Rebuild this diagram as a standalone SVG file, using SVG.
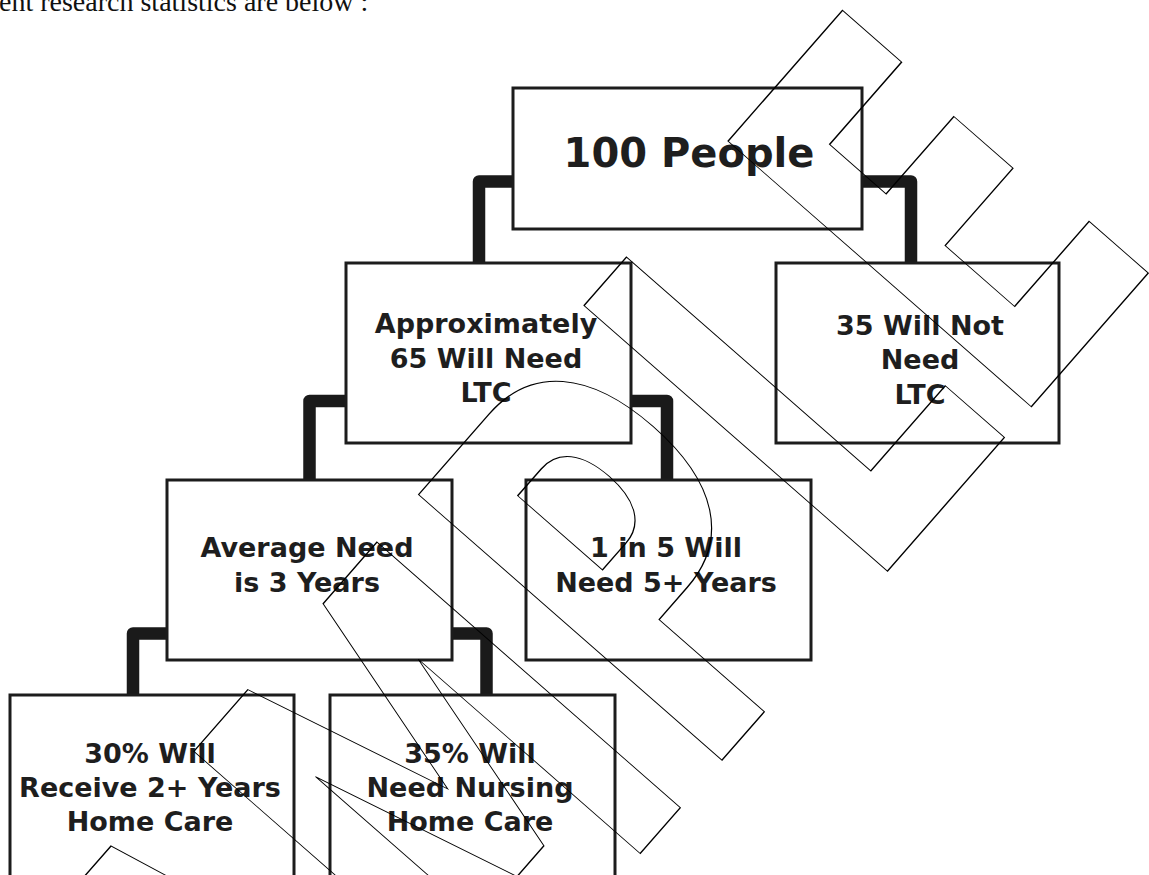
<svg xmlns="http://www.w3.org/2000/svg" width="1149" height="875" viewBox="0 0 1149 875">
<style>
.box{fill:#fff;stroke:#1c1c1c;stroke-width:3}
.lbl{font-family:"DejaVu Sans","Verdana",sans-serif;font-weight:bold;font-size:27px;fill:#1e1e1e;text-anchor:middle}
.big{font-size:40px}
.conn{fill:none;stroke:#1a1a1a;stroke-width:12.5;stroke-linejoin:round;stroke-linecap:butt}
.wm{font-family:"DejaVu Sans",sans-serif;font-weight:bold;font-size:553px;fill:none;stroke:#000;stroke-width:1.4}
</style>
<rect width="1149" height="875" fill="#fff"/>
<text x="-1" y="11" font-family="Liberation Serif, serif" font-size="28" fill="#111">ent research statistics are below :</text>
<g id="connectors">
<path class="conn" d="M513,181.5 H479 V263"/>
<path class="conn" d="M862,181.5 H911 V263"/>
<path class="conn" d="M346,401 H309.5 V480"/>
<path class="conn" d="M631,401 H667 V480"/>
<path class="conn" d="M167,633.5 H133 V695"/>
<path class="conn" d="M452,633.5 H486.5 V695"/>
</g>
<g id="n1"><rect class="box" x="513" y="88" width="349" height="141"/><text class="lbl big" x="689" y="167">100 People</text></g>
<g id="n2"><rect class="box" x="346" y="263" width="285" height="180"/><text class="lbl" x="486" y="333">Approximately</text><text class="lbl" x="486" y="368">65 Will Need</text><text class="lbl" x="486" y="402">LTC</text></g>
<g id="n3"><rect class="box" x="776" y="263" width="283" height="180"/><text class="lbl" x="920" y="335">35 Will Not</text><text class="lbl" x="920" y="369">Need</text><text class="lbl" x="920" y="404">LTC</text></g>
<g id="n4"><rect class="box" x="167" y="480" width="285" height="180"/><text class="lbl" x="307" y="557">Average Need</text><text class="lbl" x="307" y="592">is 3 Years</text></g>
<g id="n5"><rect class="box" x="526" y="480" width="285" height="180"/><text class="lbl" x="666" y="557">1 in 5 Will</text><text class="lbl" x="666" y="592">Need 5+ Years</text></g>
<g id="n6"><rect class="box" x="10" y="695" width="284" height="200"/><text class="lbl" x="150" y="763">30% Will</text><text class="lbl" x="150" y="797">Receive 2+ Years</text><text class="lbl" x="150" y="831">Home Care</text></g>
<g id="n7"><rect class="box" x="330" y="695" width="285" height="200"/><text class="lbl" x="470" y="763">35% Will</text><text class="lbl" x="470" y="797">Need Nursing</text><text class="lbl" x="470" y="831">Home Care</text></g>
<g id="watermark"><text class="wm" transform="translate(139,1426) rotate(-48.8) scale(0.62,1)">SAMPLE</text></g>
</svg>
